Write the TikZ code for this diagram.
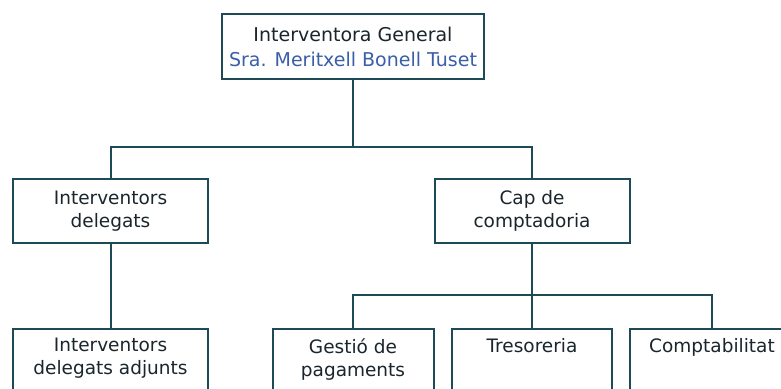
\documentclass[tikz,border=0pt]{standalone}
\usepackage{fontspec}
\setmainfont{DejaVu Sans}
\definecolor{boxline}{HTML}{1E4A58}
\definecolor{txt}{HTML}{1A262C}
\definecolor{namecol}{HTML}{3A5EA8}
\tikzset{
  box/.style={draw=boxline, line width=2pt, fill=white, rectangle, inner sep=0pt, text=txt, align=center,
    font={\fontsize{18.5}{23}\selectfont}},
  topbox/.style={box, font={\fontsize{19}{25}\selectfont}},
  lbl/.style={inner sep=0pt, anchor=north, text=txt, align=center, font={\fontsize{18.5}{23}\selectfont}},
  conn/.style={draw=boxline, line width=2pt},
}
\begin{document}
\begin{tikzpicture}[x=1pt,y=-1pt]
\useasboundingbox (0,0) rectangle (781,388);
\clip (0,0) rectangle (781,388);
\fill[white] (0,0) rectangle (781,388);
% top
\node[topbox, minimum width=262pt, minimum height=65pt] (top) at (353,46.5)
  {Interventora General\\\textcolor{namecol}{Sra. Meritxell Bonell Tuset}};
% middle
\node[box, minimum width=195pt, minimum height=64pt] (id) at (110.5,211) {Interventors\\delegats};
\node[box, minimum width=195pt, minimum height=64pt] (cap) at (532,211) {Cap de\\comptadoria};
% bottom boxes
\node[box, minimum width=195pt, minimum height=100pt, anchor=north] (ida) at (110.5,328) {};
\node[box, minimum width=161pt, minimum height=100pt, anchor=north] (gp) at (353,328) {};
\node[box, minimum width=160pt, minimum height=100pt, anchor=north] (tr) at (532,328) {};
\node[box, minimum width=164pt, minimum height=100pt, anchor=north] (co) at (712,328) {};
\node[lbl] (idat) at ([yshift=-10pt]ida.north) {Interventors\\delegats adjunts};
\node[lbl] (gpt) at ([yshift=-10pt]gp.north) {Gestió de\\pagaments};
\node[lbl] (trt) at ([yshift=-10pt]tr.north) {Tresoreria};
\node[lbl] (cot) at ([yshift=-10pt]co.north) {Comptabilitat};
% connectors
\coordinate (j1) at (353,147);
\coordinate (j2) at (532,295);
\draw[conn] (top.south) -- (j1);
\draw[conn] (id.north) |- (j1);
\draw[conn] (cap.north) |- (j1);
\draw[conn] (id.south) -- (ida.north);
\draw[conn] (cap.south) -- (j2);
\draw[conn] (gp.north) |- (j2);
\draw[conn] (tr.north) -- (j2);
\draw[conn] (co.north) |- (j2);
\end{tikzpicture}
\end{document}
